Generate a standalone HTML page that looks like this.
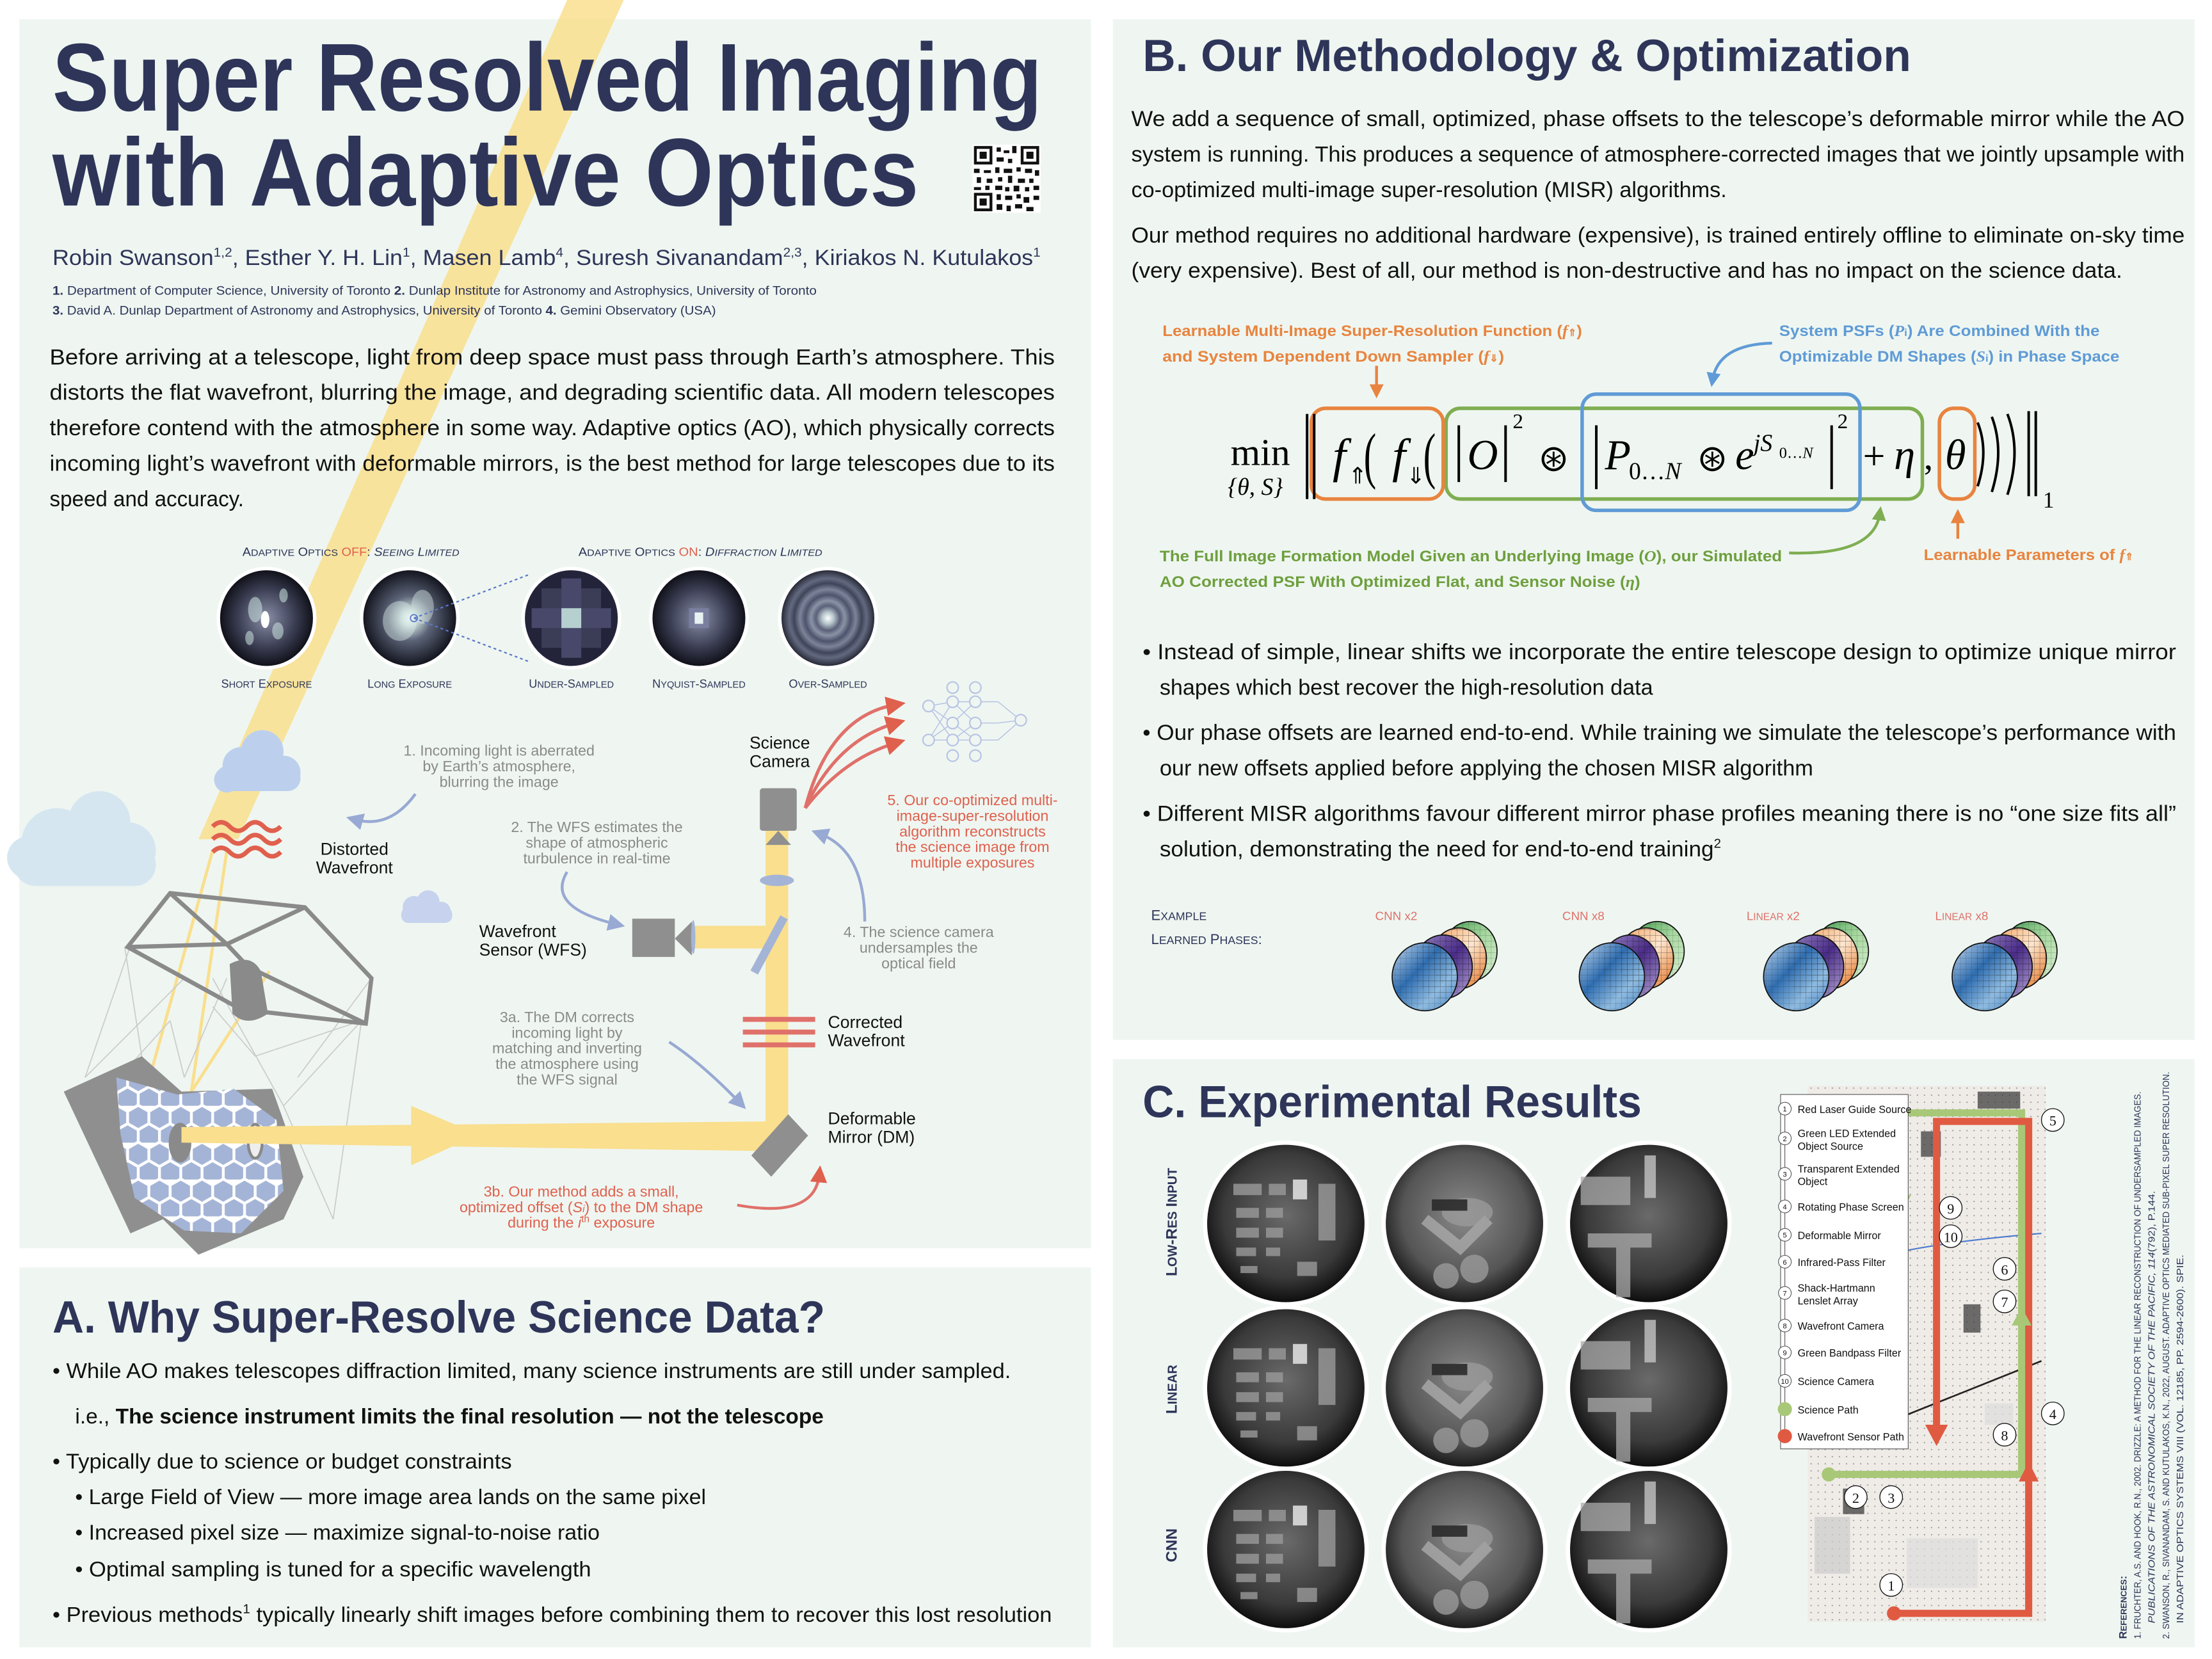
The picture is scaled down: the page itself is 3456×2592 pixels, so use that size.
<!DOCTYPE html>
<html><head><meta charset="utf-8"><style>
html,body{margin:0;padding:0;background:#fff;}
svg{display:block;}
text{font-family:"Liberation Sans",sans-serif;}
.ser text,.ser tspan{font-family:"Liberation Serif",serif;}
.nv{fill:#2e3559;}
.gy{fill:#8a8a8a;}
.rd{fill:#e0604e;}
.bk{fill:#111;}
</style></head><body>
<svg width="3456" height="2592" viewBox="0 0 1560.3 1170.2" xmlns="http://www.w3.org/2000/svg">
<defs>
<radialGradient id="dk" cx="50%" cy="50%" r="50%"><stop offset="0" stop-color="#8a8fa8"/><stop offset="0.6" stop-color="#3a3d52"/><stop offset="1" stop-color="#0c0d14"/></radialGradient>
<radialGradient id="sp" cx="50%" cy="50%" r="50%"><stop offset="0" stop-color="#ffffff"/><stop offset="0.15" stop-color="#cfe2e0"/><stop offset="0.45" stop-color="#5c6478"/><stop offset="1" stop-color="#0e0f18"/></radialGradient>
<radialGradient id="rings" cx="50%" cy="50%" r="50%"><stop offset="0" stop-color="#ffffff"/><stop offset="0.12" stop-color="#b7c6cc"/><stop offset="0.25" stop-color="#5a6078"/><stop offset="0.35" stop-color="#8a93a6"/><stop offset="0.47" stop-color="#4d536b"/><stop offset="0.58" stop-color="#7d8499"/><stop offset="0.7" stop-color="#3f4459"/><stop offset="0.8" stop-color="#636a80"/><stop offset="1" stop-color="#1a1b26"/></radialGradient>
<radialGradient id="gimg" cx="50%" cy="45%" r="55%"><stop offset="0" stop-color="#6a6a6a"/><stop offset="0.7" stop-color="#3a3a3a"/><stop offset="1" stop-color="#0a0a0a"/></radialGradient>
<radialGradient id="gimg2" cx="50%" cy="45%" r="55%"><stop offset="0" stop-color="#8a8a8a"/><stop offset="0.7" stop-color="#555"/><stop offset="1" stop-color="#151515"/></radialGradient>
<pattern id="dots" width="5" height="5" patternUnits="userSpaceOnUse"><rect width="5" height="5" fill="#efebe6"/><circle cx="2.5" cy="2.5" r="0.45" fill="#888"/></pattern>
<pattern id="grid" width="4" height="4" patternUnits="userSpaceOnUse"><path d="M4 0V4H0" fill="none" stroke="#222" stroke-width="0.3" opacity="0.5"/></pattern>
<pattern id="hex" width="15" height="26" patternUnits="userSpaceOnUse"><rect width="15" height="26" fill="#fff"/><polygon points="7.5,0.8 14,4.5 14,12 7.5,15.7 1,12 1,4.5" fill="#a4b4d6"/><polygon points="0,13.8 6.5,17.5 6.5,25 0,28.7 -6.5,25 -6.5,17.5" fill="#a4b4d6"/><polygon points="15,13.8 21.5,17.5 21.5,25 15,28.7 8.5,25 8.5,17.5" fill="#a4b4d6"/></pattern>
<linearGradient id="pb" x1="0" y1="0" x2="1" y2="1"><stop offset="0" stop-color="#c6dbef"/><stop offset="0.4" stop-color="#2f6db0"/><stop offset="0.7" stop-color="#8fbbe0"/><stop offset="1" stop-color="#4a86c4"/></linearGradient>
<linearGradient id="pp" x1="0" y1="0" x2="1" y2="1"><stop offset="0" stop-color="#9e8cc8"/><stop offset="0.5" stop-color="#4a2b8a"/><stop offset="1" stop-color="#b8aad8"/></linearGradient>
<linearGradient id="po" x1="0" y1="0" x2="1" y2="1"><stop offset="0" stop-color="#f2a05c"/><stop offset="0.5" stop-color="#fde6cf"/><stop offset="1" stop-color="#e46e1c"/></linearGradient>
<linearGradient id="pg" x1="0" y1="0" x2="1" y2="1"><stop offset="0" stop-color="#3f9a4c"/><stop offset="0.5" stop-color="#a8d8a0"/><stop offset="1" stop-color="#d8efd2"/></linearGradient>
<marker id="ab" markerWidth="6" markerHeight="6" refX="3" refY="3" orient="auto"><path d="M0 0L6 3L0 6z" fill="#98a9d3"/></marker>
<marker id="ar" markerWidth="6" markerHeight="6" refX="3" refY="3" orient="auto"><path d="M0 0L6 3L0 6z" fill="#e0604e"/></marker>
<marker id="ao" markerWidth="5" markerHeight="5" refX="2.5" refY="2.5" orient="auto"><path d="M0 0L5 2.5L0 5z" fill="#e8843f"/></marker>
<marker id="abl" markerWidth="5" markerHeight="5" refX="2.5" refY="2.5" orient="auto"><path d="M0 0L5 2.5L0 5z" fill="#5f9bd6"/></marker>
<marker id="agr" markerWidth="5" markerHeight="5" refX="2.5" refY="2.5" orient="auto"><path d="M0 0L5 2.5L0 5z" fill="#7fae52"/></marker>
</defs>

<rect x="13.5" y="13.5" width="756" height="867" fill="#eff6f1"/>
<rect x="13.5" y="894" width="756" height="268" fill="#eff6f1"/>
<rect x="785" y="13.5" width="763" height="720" fill="#eff6f1"/>
<rect x="785" y="747" width="763" height="415" fill="#eff6f1"/>

<polygon points="400,0 440,0 168,592 140,592" fill="#f9df8e" opacity="0.85"/>
<polyline points="150,600 100,780 128,800" fill="none" stroke="#f9df8e" stroke-width="2.2"/>
<polyline points="160,600 135,770 190,685" fill="none" stroke="#f9df8e" stroke-width="2.2"/>

<text x="37" y="78" class="nv" font-size="68" font-weight="bold" textLength="698" lengthAdjust="spacingAndGlyphs">Super Resolved Imaging</text>
<text x="37" y="145" class="nv" font-size="68" font-weight="bold" textLength="611" lengthAdjust="spacingAndGlyphs">with Adaptive Optics</text>
<g transform="translate(686,102)">
<rect width="48" height="48" fill="#fff"/>
<rect x="1" y="1" width="13" height="13" fill="#111"/><rect x="3" y="3" width="9" height="9" fill="#fff"/><rect x="5" y="5" width="5" height="5" fill="#111"/>
<rect x="34" y="1" width="13" height="13" fill="#111"/><rect x="36" y="3" width="9" height="9" fill="#fff"/><rect x="38" y="5" width="5" height="5" fill="#111"/>
<rect x="1" y="34" width="13" height="13" fill="#111"/><rect x="3" y="36" width="9" height="9" fill="#fff"/><rect x="5" y="38" width="5" height="5" fill="#111"/>
<path d="M17 2h3v3h-3zM22 4h4v2h-4zM28 1h3v5h-3zM17 9h5v3h-5zM25 10h3v3h-3zM1 17h4v3H1zM8 18h5v2H8zM16 16h3v4h-3zM22 17h6v3h-6zM31 16h3v3h-3zM37 17h5v3h-5zM44 18h3v4h-3zM3 23h3v4H3zM10 24h4v3h-4zM18 23h3v3h-3zM25 22h3v5h-3zM32 24h5v3h-5zM40 24h3v3h-3zM1 30h5v2H1zM9 29h3v3H9zM16 29h5v3h-5zM23 30h3v3h-3zM29 29h4v4h-4zM37 30h3v3h-3zM43 29h4v3h-4zM17 35h3v4h-3zM23 36h5v3h-5zM31 35h3v3h-3zM36 37h4v4h-4zM43 36h4v3h-4zM17 42h4v4h-4zM24 43h3v4h-3zM30 42h5v3h-5zM38 44h5v3h-5z" fill="#111"/>
</g>

<text x="37" y="187" class="nv" font-size="15.5" textLength="697" lengthAdjust="spacingAndGlyphs">Robin Swanson<tspan font-size="9" dy="-6">1,2</tspan><tspan dy="6">, Esther Y. H. Lin</tspan><tspan font-size="9" dy="-6">1</tspan><tspan dy="6">, Masen Lamb</tspan><tspan font-size="9" dy="-6">4</tspan><tspan dy="6">,  Suresh Sivanandam</tspan><tspan font-size="9" dy="-6">2,3</tspan><tspan dy="6">, Kiriakos N. Kutulakos</tspan><tspan font-size="9" dy="-6">1</tspan></text>
<text x="37" y="208" class="nv" font-size="8.6" textLength="539" lengthAdjust="spacingAndGlyphs"><tspan font-weight="bold">1.</tspan> Department of Computer Science,  University of Toronto  <tspan font-weight="bold">2.</tspan> Dunlap Institute for Astronomy and Astrophysics, University of Toronto</text>
<text x="37" y="222" class="nv" font-size="8.6" textLength="468" lengthAdjust="spacingAndGlyphs"><tspan font-weight="bold">3.</tspan> David A. Dunlap Department of Astronomy and Astrophysics, University of Toronto  <tspan font-weight="bold">4.</tspan> Gemini Observatory (USA)</text>

<g class="bk" font-size="15.5">
<text x="35" y="257" textLength="709" lengthAdjust="spacingAndGlyphs">Before arriving at a telescope, light from deep space must pass through Earth’s atmosphere. This</text>
<text x="35" y="282" textLength="709" lengthAdjust="spacingAndGlyphs">distorts the flat wavefront, blurring the image, and degrading scientific data. All modern telescopes</text>
<text x="35" y="307" textLength="709" lengthAdjust="spacingAndGlyphs">therefore contend with the atmosphere in some way. Adaptive optics (AO), which physically corrects</text>
<text x="35" y="332" textLength="709" lengthAdjust="spacingAndGlyphs">incoming light’s wavefront with deformable mirrors, is the best method for large telescopes due to its</text>
<text x="35" y="357" textLength="137" lengthAdjust="spacingAndGlyphs">speed and accuracy.</text>
</g>

<text x="171" y="392" class="nv" font-size="8.5" textLength="153" lengthAdjust="spacingAndGlyphs">A<tspan font-size="6.8">DAPTIVE</tspan> O<tspan font-size="6.8">PTICS</tspan> <tspan fill="#e0604e">OFF</tspan>: <tspan font-style="italic">S<tspan font-size="6.8">EEING</tspan> L<tspan font-size="6.8">IMITED</tspan></tspan></text>
<text x="408" y="392" class="nv" font-size="8.5" textLength="172" lengthAdjust="spacingAndGlyphs">A<tspan font-size="6.8">DAPTIVE</tspan> O<tspan font-size="6.8">PTICS</tspan> <tspan fill="#e0604e">ON</tspan>: <tspan font-style="italic">D<tspan font-size="6.8">IFFRACTION</tspan> L<tspan font-size="6.8">IMITED</tspan></tspan></text>

<g stroke="#fff" stroke-width="2.5">
<ellipse cx="188" cy="436" rx="34" ry="35" fill="url(#dk)"/>
<ellipse cx="289" cy="436" rx="34" ry="35" fill="url(#sp)"/>
<ellipse cx="403" cy="436" rx="34" ry="35" fill="#23243a"/>
<ellipse cx="493" cy="436" rx="34" ry="35" fill="url(#dk)"/>
<ellipse cx="584" cy="436" rx="34" ry="35" fill="url(#rings)"/>
</g>
<g fill="#cde3e0" opacity="0.55"><ellipse cx="180" cy="430" rx="5" ry="9"/><ellipse cx="196" cy="445" rx="4" ry="6"/><ellipse cx="176" cy="450" rx="3" ry="5"/><ellipse cx="200" cy="420" rx="3" ry="5"/></g>
<ellipse cx="187" cy="437" rx="3" ry="6" fill="#fff"/>
<g fill="#d7e8e4" opacity="0.45"><ellipse cx="282" cy="438" rx="12" ry="14"/><ellipse cx="298" cy="428" rx="8" ry="12"/></g>
<g>
<rect x="382" y="415" width="42" height="42" fill="#3b3c56"/>
<rect x="396" y="408" width="14" height="56" fill="#47486a"/>
<rect x="375" y="429" width="56" height="14" fill="#47486a"/>
<rect x="396" y="429" width="14" height="14" fill="#b6d0d0"/>
</g>
<rect x="486" y="429" width="14" height="14" fill="#7a7fa0"/><rect x="490" y="432" width="6" height="8" fill="#e8f2f2"/>
<g fill="none" stroke="#5a78c8" stroke-width="1" stroke-dasharray="2 2"><line x1="292" y1="436" x2="374" y2="405"/><line x1="292" y1="436" x2="374" y2="467"/></g>
<circle cx="292" cy="436" r="2.5" fill="none" stroke="#5a78c8" stroke-width="0.8"/>

<g class="nv" font-size="8.2" text-anchor="middle">
<text x="188" y="485">S<tspan font-size="6.6">HORT</tspan> E<tspan font-size="6.6">XPOSURE</tspan></text>
<text x="289" y="485">L<tspan font-size="6.6">ONG</tspan> E<tspan font-size="6.6">XPOSURE</tspan></text>
<text x="403" y="485">U<tspan font-size="6.6">NDER</tspan>-S<tspan font-size="6.6">AMPLED</tspan></text>
<text x="493" y="485">N<tspan font-size="6.6">YQUIST</tspan>-S<tspan font-size="6.6">AMPLED</tspan></text>
<text x="584" y="485">O<tspan font-size="6.6">VER</tspan>-S<tspan font-size="6.6">AMPLED</tspan></text>
</g>

<g fill="#bcd0ee"><circle cx="170" cy="540" r="13"/><circle cx="185" cy="530" r="15"/><circle cx="200" cy="545" r="12"/><circle cx="160" cy="550" r="9"/><rect x="152" y="540" width="60" height="18" rx="9"/></g>
<g fill="#d6e6f1"><circle cx="40" cy="595" r="25"/><circle cx="70" cy="580" r="22"/><circle cx="90" cy="600" r="20"/><circle cx="20" cy="605" r="15"/><rect x="10" y="595" width="100" height="30" rx="15"/></g>
<g fill="#c6d2ee"><circle cx="292" cy="640" r="8"/><circle cx="302" cy="636" r="8"/><circle cx="311" cy="643" r="7"/><rect x="283" y="640" width="36" height="11" rx="5"/></g>

<g fill="none" stroke="#e0604e" stroke-width="3.2">
<path d="M150,583 q6,-6 12,0 t12,0 t12,0 t12,0"/>
<path d="M150,592 q6,-6 12,0 t12,0 t12,0 t12,0"/>
<path d="M150,601 q6,-6 12,0 t12,0 t12,0 t12,0"/>
</g>
<text x="250" y="603" class="bk" font-size="12" text-anchor="middle">Distorted</text>
<text x="250" y="616" class="bk" font-size="12" text-anchor="middle">Wavefront</text>

<g fill="none" stroke="#ccc" stroke-width="0.8">
<path d="M92,667 L60,760 M88,668 L100,745 M120,720 L75,770 M120,720 L130,760 M180,745 L150,710 M255,720 L200,780 M255,720 L235,860 M262,690 L210,760 M130,760 L160,690 M60,760 L130,690 M200,780 L150,690 M235,860 L200,780 M180,745 L255,720"/>
</g>
<g fill="none" stroke="#8a8a8a" stroke-width="3">
<polygon points="120,630 215,640 262,690 258,722 170,712 90,668"/>
<path d="M120,630 L160,666 L215,640 M160,666 L90,668 M160,666 L175,682 L258,722 M175,682 L170,712"/>
</g>
<path d="M162,680 q15,-8 22,5 l5,30 q-15,10 -25,0 z" fill="#8a8a8a"/>
<polygon points="45,770 100,745 128,770 192,768 214,830 200,860 140,885 115,860 92,870" fill="#8f8f8f"/>
<path d="M82,760 L125,772 L165,768 L195,790 L200,840 L170,870 L130,868 L95,845 L85,800 Z" fill="url(#hex)"/>
<ellipse cx="127" cy="806" rx="8" ry="14" fill="#8a8a8a"/>
<ellipse cx="180" cy="805" rx="5" ry="12" fill="#eee" stroke="#888" stroke-width="2"/>

<path d="M128,795 L545,791 L545,812 L128,806 Z" fill="#f9df8e"/>
<polygon points="290,780 325,795 325,806 290,822" fill="#f9df8e"/>
<rect x="540" y="585" width="16" height="222" fill="#f9df8e"/>
<rect x="488" y="653" width="55" height="16" fill="#f9df8e"/>
<polygon points="543,585 553,585 548,560" fill="#f9df8e"/>
<rect x="536" y="556" width="26" height="30" rx="2" fill="#8f8f8f"/>
<polygon points="540,596 558,596 549,586" fill="#8f8f8f"/>
<ellipse cx="548" cy="621" rx="12" ry="4" fill="#a4b4d6"/>
<text x="550" y="528" class="bk" font-size="12" text-anchor="middle">Science</text>
<text x="550" y="541" class="bk" font-size="12" text-anchor="middle">Camera</text>
<rect x="446" y="648" width="30" height="27" fill="#8f8f8f"/>
<polygon points="476,662 488,650 488,674" fill="#8f8f8f"/>
<ellipse cx="489" cy="661" rx="1.5" ry="12" fill="#a4b4d6"/>
<text x="338" y="661" class="bk" font-size="12">Wavefront</text>
<text x="338" y="674" class="bk" font-size="12">Sensor (WFS)</text>
<line x1="532" y1="686" x2="553" y2="647" stroke="#a4b4d6" stroke-width="6"/>
<g stroke="#e0706a" stroke-width="3.5"><line x1="524" y1="719" x2="575" y2="719"/><line x1="524" y1="728" x2="575" y2="728"/><line x1="524" y1="737" x2="575" y2="737"/></g>
<text x="584" y="725" class="bk" font-size="12">Corrected</text>
<text x="584" y="738" class="bk" font-size="12">Wavefront</text>
<polygon points="556,786 570,801 544,830 530,815" fill="#8f8f8f"/>
<text x="584" y="793" class="bk" font-size="12">Deformable</text>
<text x="584" y="806" class="bk" font-size="12">Mirror (DM)</text>

<g stroke="#b8c4e4" stroke-width="0.7" fill="none">
<path d="M655,498 L672,495 M655,498 L672,510 M655,498 L672,522 M655,522 L672,495 M655,522 L672,510 M655,522 L672,522 M672,495 L688,495 M672,495 L688,510 M672,510 L688,495 M672,510 L688,522 M672,522 L688,510 M672,522 L688,522 M688,495 L704,495 M688,510 L704,510 M688,522 L704,522 M704,495 L720,508 M704,510 L720,508 M704,522 L720,508"/>
</g>
<g fill="#eff6f1" stroke="#b8c4e4" stroke-width="1">
<circle cx="655" cy="498" r="4"/><circle cx="655" cy="522" r="4"/>
<circle cx="672" cy="485" r="4"/><circle cx="672" cy="495" r="4"/><circle cx="672" cy="510" r="4"/><circle cx="672" cy="522" r="4"/><circle cx="672" cy="533" r="4"/>
<circle cx="688" cy="485" r="4"/><circle cx="688" cy="495" r="4"/><circle cx="688" cy="510" r="4"/><circle cx="688" cy="522" r="4"/><circle cx="688" cy="533" r="4"/>
<circle cx="720" cy="508" r="4"/>
</g>
<g fill="none" stroke="#e0706a" stroke-width="2.3" marker-end="url(#ar)">
<path d="M568,570 Q585,505 632,497"/>
<path d="M568,570 Q590,522 632,510"/>
<path d="M568,570 Q595,535 632,524"/>
</g>

<g class="gy" font-size="10.5" text-anchor="middle">
<text x="352" y="533">1. Incoming light is aberrated</text><text x="352" y="544">by Earth’s atmosphere,</text><text x="352" y="555">blurring the image</text>
<text x="421" y="587">2. The WFS estimates the</text><text x="421" y="598">shape of atmospheric</text><text x="421" y="609">turbulence in real-time</text>
<text x="648" y="661">4. The science camera</text><text x="648" y="672">undersamples the</text><text x="648" y="683">optical field</text>
<text x="400" y="721">3a. The DM corrects</text><text x="400" y="732">incoming light by</text><text x="400" y="743">matching and inverting</text><text x="400" y="754">the atmosphere using</text><text x="400" y="765">the WFS signal</text>
</g>
<g class="rd" font-size="10.5" text-anchor="middle">
<text x="686" y="568">5. Our co-optimized multi-</text><text x="686" y="579">image-super-resolution</text><text x="686" y="590">algorithm reconstructs</text><text x="686" y="601">the science image from</text><text x="686" y="612">multiple exposures</text>
<text x="410" y="844">3b. Our method adds a small,</text><text x="410" y="855">optimized offset (<tspan font-style="italic">S</tspan><tspan font-size="7" font-style="italic">i</tspan>) to the DM shape</text><text x="410" y="866">during the <tspan font-style="italic">i</tspan><tspan font-size="7" dy="-4">th</tspan><tspan dy="4"> exposure</tspan></text>
</g>
<g fill="none" stroke="#98a9d3" stroke-width="2" marker-end="url(#ab)">
<path d="M293,560 Q275,585 250,578"/>
<path d="M400,615 Q385,640 435,652"/>
<path d="M610,650 Q610,600 578,588"/>
<path d="M472,735 Q495,750 522,778"/>
</g>
<path d="M520,850 Q575,860 578,828" fill="none" stroke="#e0706a" stroke-width="2" marker-end="url(#ar)"/>

<text x="37" y="940" class="nv" font-size="32" font-weight="bold" textLength="545" lengthAdjust="spacingAndGlyphs">A. Why Super-Resolve Science Data?</text>
<g class="bk" font-size="15">
<text x="37" y="972" textLength="676" lengthAdjust="spacingAndGlyphs">• While AO makes telescopes diffraction limited, many science instruments are still under sampled.</text>
<text x="53" y="1004" textLength="528" lengthAdjust="spacingAndGlyphs">i.e., <tspan font-weight="bold">The science instrument limits the final resolution — not the telescope</tspan></text>
<text x="37" y="1036" textLength="324" lengthAdjust="spacingAndGlyphs">• Typically due to science or budget constraints</text>
<text x="53" y="1061" textLength="445" lengthAdjust="spacingAndGlyphs">• Large Field of View — more image area lands on the same pixel</text>
<text x="53" y="1086" textLength="370" lengthAdjust="spacingAndGlyphs">• Increased pixel size — maximize signal-to-noise ratio</text>
<text x="53" y="1112" textLength="364" lengthAdjust="spacingAndGlyphs">• Optimal sampling is tuned for a specific wavelength</text>
<text x="37" y="1144" textLength="705" lengthAdjust="spacingAndGlyphs">• Previous methods<tspan font-size="9" dy="-6">1</tspan><tspan dy="6"> typically linearly shift images before combining them to recover this lost resolution</tspan></text>
</g>

<text x="806" y="50" class="nv" font-size="32" font-weight="bold" textLength="542" lengthAdjust="spacingAndGlyphs">B. Our Methodology &amp; Optimization</text>
<g class="bk" font-size="15.5">
<text x="798" y="89" textLength="743" lengthAdjust="spacingAndGlyphs">We add a sequence of small, optimized, phase offsets to the telescope’s deformable mirror while the AO</text>
<text x="798" y="114" textLength="743" lengthAdjust="spacingAndGlyphs">system is running. This produces a sequence of atmosphere-corrected images that we jointly upsample with</text>
<text x="798" y="139" textLength="420" lengthAdjust="spacingAndGlyphs">co-optimized multi-image super-resolution (MISR) algorithms.</text>
<text x="798" y="171" textLength="743" lengthAdjust="spacingAndGlyphs">Our method requires no additional hardware (expensive), is trained entirely offline to eliminate on-sky time</text>
<text x="798" y="196" textLength="699" lengthAdjust="spacingAndGlyphs">(very expensive). Best of all, our method is non-destructive and has no impact on the science data.</text>
</g>

<g font-size="11" font-weight="bold">
<text x="820" y="237" fill="#e8843f" textLength="296" lengthAdjust="spacingAndGlyphs">Learnable Multi-Image Super-Resolution Function (<tspan font-style="italic" font-family="Liberation Serif">f</tspan><tspan font-size="7">⇑</tspan>)</text>
<text x="820" y="255" fill="#e8843f" textLength="241" lengthAdjust="spacingAndGlyphs">and System Dependent Down Sampler (<tspan font-style="italic" font-family="Liberation Serif">f</tspan><tspan font-size="7">⇓</tspan>)</text>
<text x="1255" y="237" fill="#5f9bd6" textLength="226" lengthAdjust="spacingAndGlyphs">System PSFs (<tspan font-style="italic" font-family="Liberation Serif">P</tspan><tspan font-size="7">i</tspan>) Are Combined With the</text>
<text x="1255" y="255" fill="#5f9bd6" textLength="240" lengthAdjust="spacingAndGlyphs">Optimizable DM Shapes (<tspan font-style="italic" font-family="Liberation Serif">S</tspan><tspan font-size="7">i</tspan>) in Phase Space</text>
<text x="818" y="396" fill="#6e9f3e" textLength="439" lengthAdjust="spacingAndGlyphs">The Full Image Formation Model Given an Underlying Image (<tspan font-style="italic" font-family="Liberation Serif">O</tspan>), our Simulated</text>
<text x="818" y="414" fill="#6e9f3e" textLength="339" lengthAdjust="spacingAndGlyphs">AO Corrected PSF With Optimized Flat, and Sensor Noise (<tspan font-style="italic" font-family="Liberation Serif">η</tspan>)</text>
<text x="1357" y="395" fill="#e8843f" textLength="148" lengthAdjust="spacingAndGlyphs">Learnable Parameters of <tspan font-style="italic" font-family="Liberation Serif">f</tspan><tspan font-size="7">⇑</tspan></text>
</g>
<line x1="971" y1="258" x2="971" y2="276" stroke="#e8843f" stroke-width="2" marker-end="url(#ao)"/>
<path d="M1250,242 Q1212,243 1208,268" fill="none" stroke="#5f9bd6" stroke-width="2" marker-end="url(#abl)"/>
<path d="M1262,390 Q1322,392 1326,362" fill="none" stroke="#7fae52" stroke-width="2" marker-end="url(#agr)"/>
<line x1="1381" y1="380" x2="1381" y2="364" stroke="#e8843f" stroke-width="2" marker-end="url(#ao)"/>

<rect x="1020" y="288" width="336" height="64" rx="10" fill="none" stroke="#7fae52" stroke-width="2.5"/>
<rect x="1116" y="278" width="196" height="82" rx="10" fill="none" stroke="#5f9bd6" stroke-width="2.5"/>
<rect x="925" y="288" width="93" height="64" rx="10" fill="none" stroke="#e8843f" stroke-width="2.5"/>
<rect x="1368" y="288" width="25" height="64" rx="10" fill="none" stroke="#e8843f" stroke-width="2.5"/>
<g class="ser" fill="#000">
<text x="868" y="328" font-size="27">min</text>
<text x="866" y="349" font-size="17" font-style="italic">{θ, S}</text>
<text x="940" y="333" font-size="34" font-style="italic">f</text><text x="951" y="341" font-size="16">⇑</text>
<text x="962" y="336" font-size="44" transform="translate(962,336) scale(0.6,1) translate(-962,-336)">(</text>
<text x="982" y="333" font-size="34" font-style="italic">f</text><text x="992" y="341" font-size="16">⇓</text>
<text x="1004" y="336" font-size="44" transform="translate(1004,336) scale(0.6,1) translate(-1004,-336)">(</text>
<text x="1035" y="331" font-size="30" font-style="italic">O</text>
<text x="1067" y="302" font-size="15">2</text>
<text x="1085" y="332" font-size="26">⊛</text>
<text x="1132" y="331" font-size="30" font-style="italic">P</text>
<text x="1149" y="338" font-size="17">0…<tspan font-style="italic">N</tspan></text>
<text x="1197" y="332" font-size="26">⊛</text>
<text x="1224" y="331" font-size="30" font-style="italic">e</text>
<text x="1237" y="318" font-size="17" font-style="italic">jS</text><text x="1255" y="323" font-size="11">0…<tspan font-style="italic">N</tspan></text>
<text x="1296" y="302" font-size="15">2</text>
<text x="1314" y="331" font-size="28">+</text>
<text x="1336" y="331" font-size="30" font-style="italic">η</text>
<text x="1357" y="331" font-size="26">,</text>
<text x="1372" y="331" font-size="30" font-style="italic">θ</text>
<text x="1441" y="358" font-size="16">1</text>
</g>
<g stroke="#000" stroke-width="1.8" fill="none">
<line x1="922" y1="292" x2="922" y2="352"/><line x1="927" y1="292" x2="927" y2="352"/>
<line x1="1431" y1="290" x2="1431" y2="350"/><line x1="1436" y1="290" x2="1436" y2="350"/>
<line x1="1029" y1="300" x2="1029" y2="340"/><line x1="1062" y1="300" x2="1062" y2="340"/>
<line x1="1126" y1="300" x2="1126" y2="345"/><line x1="1292" y1="300" x2="1292" y2="345"/>
<path d="M1395,298 q8,20 0,45"/><path d="M1405,294 q9,24 0,53"/><path d="M1416,292 q10,26 0,57"/>
</g>

<g class="bk" font-size="15.5">
<text x="806" y="465" textLength="729" lengthAdjust="spacingAndGlyphs">• Instead of simple, linear shifts we incorporate the entire telescope design to optimize unique mirror</text>
<text x="818" y="490" textLength="348" lengthAdjust="spacingAndGlyphs">shapes which best recover the high-resolution data</text>
<text x="806" y="522" textLength="729" lengthAdjust="spacingAndGlyphs">• Our phase offsets are learned end-to-end. While training we simulate the telescope’s performance with</text>
<text x="818" y="547" textLength="461" lengthAdjust="spacingAndGlyphs">our new offsets applied before applying the chosen MISR algorithm</text>
<text x="806" y="579" textLength="729" lengthAdjust="spacingAndGlyphs">• Different MISR algorithms favour different mirror phase profiles meaning there is no “one size fits all”</text>
<text x="818" y="604" textLength="396" lengthAdjust="spacingAndGlyphs">solution, demonstrating the need for end-to-end training<tspan font-size="9" dy="-6">2</tspan></text>
</g>

<text x="812" y="649" class="nv" font-size="10">E<tspan font-size="8">XAMPLE</tspan></text>
<text x="812" y="666" class="nv" font-size="10">L<tspan font-size="8">EARNED</tspan> P<tspan font-size="8">HASES</tspan>:</text>
<g font-size="8.5" fill="#e0706a">
<text x="970" y="649">CNN x2</text><text x="1102" y="649">CNN x8</text>
<text x="1232" y="649">L<tspan font-size="7">INEAR</tspan> x2</text><text x="1365" y="649">L<tspan font-size="7">INEAR</tspan> x8</text>
</g>
<g id="ph1">
<g stroke="#111" stroke-width="0.8">
<ellipse cx="1037" cy="671" rx="19" ry="21" fill="url(#pg)"/>
<ellipse cx="1029" cy="676" rx="19.5" ry="21.5" fill="url(#po)"/>
<ellipse cx="1018" cy="682" rx="20.5" ry="22.5" fill="url(#pp)"/>
<ellipse cx="1005" cy="689" rx="23" ry="24" fill="url(#pb)"/>
</g>
<g fill="url(#grid)">
<ellipse cx="1037" cy="671" rx="19" ry="21"/><ellipse cx="1029" cy="676" rx="19.5" ry="21.5"/><ellipse cx="1018" cy="682" rx="20.5" ry="22.5"/><ellipse cx="1005" cy="689" rx="23" ry="24"/>
</g>
</g>
<use href="#ph1" x="132"/>
<use href="#ph1" x="262"/>
<use href="#ph1" x="395"/>

<text x="806" y="788" class="nv" font-size="32" font-weight="bold" textLength="352" lengthAdjust="spacingAndGlyphs">C. Experimental Results</text>
<g class="nv" font-size="11" font-weight="bold" text-anchor="middle">
<text transform="translate(830,862) rotate(-90)">L<tspan font-size="9">OW</tspan>-R<tspan font-size="9">ES</tspan> I<tspan font-size="9">NPUT</tspan></text>
<text transform="translate(830,980) rotate(-90)">L<tspan font-size="9">INEAR</tspan></text>
<text transform="translate(830,1090) rotate(-90)">CNN</text>
</g>
<g stroke="#fff" stroke-width="3">
<ellipse cx="907" cy="863" rx="57" ry="57" fill="url(#gimg)"/>
<ellipse cx="1033" cy="863" rx="57" ry="57" fill="url(#gimg2)"/>
<ellipse cx="1163" cy="863" rx="57" ry="57" fill="url(#gimg)"/>
<ellipse cx="907" cy="979" rx="57" ry="57" fill="url(#gimg)"/>
<ellipse cx="1033" cy="979" rx="57" ry="57" fill="url(#gimg2)"/>
<ellipse cx="1163" cy="979" rx="57" ry="57" fill="url(#gimg)"/>
<ellipse cx="907" cy="1093" rx="57" ry="57" fill="url(#gimg)"/>
<ellipse cx="1033" cy="1093" rx="57" ry="57" fill="url(#gimg2)"/>
<ellipse cx="1163" cy="1093" rx="57" ry="57" fill="url(#gimg)"/>
</g>
<g id="usaf" fill="#9a9a9a" opacity="0.8">
<rect x="870" y="835" width="20" height="8"/><rect x="895" y="835" width="12" height="8"/><rect x="912" y="832" width="10" height="14" fill="#eee"/><rect x="930" y="835" width="12" height="40"/>
<rect x="872" y="852" width="16" height="7"/><rect x="893" y="852" width="12" height="7"/>
<rect x="872" y="866" width="16" height="7"/><rect x="893" y="866" width="12" height="7"/>
<rect x="872" y="880" width="14" height="6"/><rect x="893" y="880" width="10" height="6"/>
<rect x="875" y="893" width="12" height="5"/><rect x="915" y="890" width="14" height="10"/>
</g>
<use href="#usaf" y="116"/><use href="#usaf" y="230"/>
<g id="hand" fill="#9a9a9a" opacity="0.8">
<ellipse cx="1035" cy="855" rx="18" ry="10"/><path d="M1005,860 L1030,880 L1050,860" fill="none" stroke="#aaa" stroke-width="8"/><circle cx="1040" cy="895" r="10"/><circle cx="1020" cy="900" r="9"/><path d="M1010,850 h25" stroke="#222" stroke-width="8"/>
</g>
<use href="#hand" y="116"/><use href="#hand" y="230"/>
<g id="shelf" fill="#aaa" opacity="0.75">
<rect x="1115" y="830" width="35" height="20"/><rect x="1120" y="870" width="45" height="10"/><rect x="1140" y="875" width="10" height="40"/><rect x="1160" y="815" width="8" height="30" fill="#ccc"/>
</g>
<use href="#shelf" y="116"/><use href="#shelf" y="230"/>

<rect x="1275" y="766" width="168" height="378" fill="url(#dots)"/>
<g fill="#333" opacity="0.7">
<rect x="1395" y="770" width="30" height="12"/><rect x="1355" y="798" width="14" height="18"/><rect x="1300" y="1050" width="15" height="18"/><rect x="1345" y="1085" width="50" height="35" fill="#ddd"/><rect x="1280" y="1070" width="25" height="40" fill="#ccc"/><rect x="1385" y="920" width="12" height="20"/><rect x="1330" y="905" width="16" height="18"/><rect x="1400" y="990" width="20" height="15" fill="#ddd"/>
</g>
<path d="M1290,900 Q1320,880 1440,870" fill="none" stroke="#4a7ad0" stroke-width="1"/>
<path d="M1290,1020 L1440,960" fill="none" stroke="#222" stroke-width="1.2"/>
<g fill="none" stroke-width="5">
<path d="M1340,848 V785 H1426 V1040 H1290" stroke="#a8c878"/>
<path d="M1366,1012 V791 H1431 V1138 H1336" stroke="#e05a42"/>
</g>
<polygon points="1332,843 1348,843 1340,858" fill="#a8c878"/>
<polygon points="1358,1005 1374,1005 1366,1020" fill="#e05a42"/>
<polygon points="1419,935 1433,935 1426,922" fill="#a8c878"/>
<polygon points="1424,1045 1438,1045 1431,1031" fill="#e05a42"/>
<circle cx="1290" cy="1040" r="5" fill="#a8c878"/><circle cx="1336" cy="1138" r="5" fill="#e05a42"/>
<g fill="#fff" stroke="#111" stroke-width="0.6">
<circle cx="1448" cy="790" r="8"/><circle cx="1376" cy="852" r="8"/><circle cx="1376" cy="872" r="8"/><circle cx="1414" cy="895" r="8"/><circle cx="1414" cy="918" r="8"/><circle cx="1448" cy="997" r="8"/><circle cx="1414" cy="1012" r="8"/><circle cx="1309" cy="1056" r="8"/><circle cx="1334" cy="1056" r="8"/><circle cx="1334" cy="1118" r="8"/>
</g>
<g class="ser" font-size="10" text-anchor="middle" fill="#111">
<text x="1448" y="794">5</text><text x="1376" y="856">9</text><text x="1376" y="876">10</text><text x="1414" y="899">6</text><text x="1414" y="922">7</text><text x="1448" y="1001">4</text><text x="1414" y="1016">8</text><text x="1309" y="1060">2</text><text x="1334" y="1060">3</text><text x="1334" y="1122">1</text>
</g>
<rect x="1256" y="772" width="90" height="250" fill="#fff" stroke="#555" stroke-width="0.5"/>
<line x1="1259" y1="780" x2="1259" y2="1016" stroke="#555" stroke-width="0.5"/>
<g fill="#fff" stroke="#555" stroke-width="0.5">
<circle cx="1259" cy="782" r="4.5"/><circle cx="1259" cy="803" r="4.5"/><circle cx="1259" cy="828" r="4.5"/><circle cx="1259" cy="851" r="4.5"/><circle cx="1259" cy="871" r="4.5"/><circle cx="1259" cy="890" r="4.5"/><circle cx="1259" cy="912" r="4.5"/><circle cx="1259" cy="935" r="4.5"/><circle cx="1259" cy="954" r="4.5"/><circle cx="1259" cy="974" r="4.5"/>
</g>
<circle cx="1259" cy="994" r="5" fill="#a8c878"/><circle cx="1259" cy="1013" r="5" fill="#e05a42"/>
<g font-size="5" text-anchor="middle" fill="#111">
<text x="1259" y="784">1</text><text x="1259" y="805">2</text><text x="1259" y="830">3</text><text x="1259" y="853">4</text><text x="1259" y="873">5</text><text x="1259" y="892">6</text><text x="1259" y="914">7</text><text x="1259" y="937">8</text><text x="1259" y="956">9</text><text x="1259" y="976">10</text>
</g>
<g font-size="7.3" fill="#111">
<text x="1268" y="785">Red Laser Guide Source</text>
<text x="1268" y="802">Green LED Extended</text><text x="1268" y="811">Object Source</text>
<text x="1268" y="827">Transparent Extended</text><text x="1268" y="836">Object</text>
<text x="1268" y="854">Rotating Phase Screen</text>
<text x="1268" y="874">Deformable Mirror</text>
<text x="1268" y="893">Infrared-Pass Filter</text>
<text x="1268" y="911">Shack-Hartmann</text><text x="1268" y="920">Lenslet Array</text>
<text x="1268" y="938">Wavefront Camera</text>
<text x="1268" y="957">Green Bandpass Filter</text>
<text x="1268" y="977">Science Camera</text>
<text x="1268" y="997">Science Path</text>
<text x="1268" y="1016">Wavefront Sensor Path</text>
</g>

<g class="nv" font-size="6.6">
<text transform="translate(1500,1156) rotate(-90)" font-weight="bold" font-size="7.5">R<tspan font-size="6">EFERENCES</tspan>:</text>
<text transform="translate(1510,1156) rotate(-90)" textLength="386" lengthAdjust="spacingAndGlyphs">1.   FRUCHTER, A.S. AND HOOK, R.N., 2002. DRIZZLE: A METHOD FOR THE LINEAR RECONSTRUCTION OF UNDERSAMPLED IMAGES.</text>
<text transform="translate(1520,1145) rotate(-90)" textLength="305" lengthAdjust="spacingAndGlyphs"><tspan font-style="italic">PUBLICATIONS OF THE ASTRONOMICAL SOCIETY OF THE PACIFIC, 114</tspan>(792), P.144.</text>
<text transform="translate(1530,1156) rotate(-90)" textLength="400" lengthAdjust="spacingAndGlyphs">2.   SWANSON, R., SIVANANDAM, S. AND KUTULAKOS, K.N., 2022, AUGUST. ADAPTIVE OPTICS MEDIATED SUB-PIXEL SUPER RESOLUTION.</text>
<text transform="translate(1540,1145) rotate(-90)" textLength="260" lengthAdjust="spacingAndGlyphs">IN ADAPTIVE OPTICS SYSTEMS VIII (VOL. 12185, PP. 2594-2600). SPIE.</text>
</g>
</svg>
</body></html>
